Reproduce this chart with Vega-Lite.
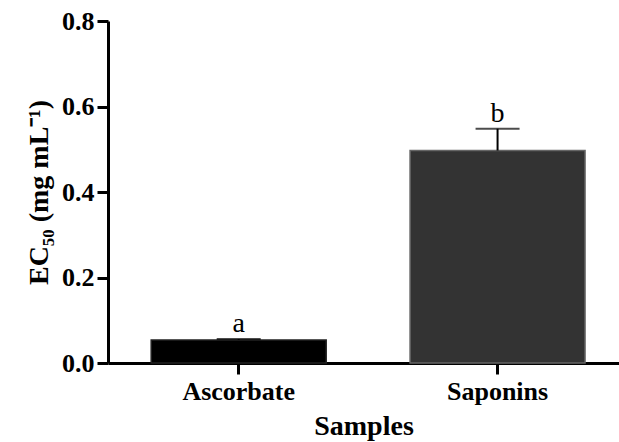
{
  "$schema": "https://vega.github.io/schema/vega-lite/v6.json",
  "width": 511,
  "height": 342,
  "autosize": "none",
  "padding": {"left": 108, "top": 21, "right": 0, "bottom": 79},
  "background": "white",
  "config": {
    "view": {"stroke": null},
    "font": "Liberation Serif",
    "axis": {
      "domainColor": "black",
      "domainWidth": 3,
      "tickColor": "black",
      "tickWidth": 3,
      "tickSize": 11,
      "grid": false,
      "labelFont": "Liberation Serif",
      "labelFontWeight": "bold",
      "labelFontSize": 26,
      "labelColor": "black",
      "titleFont": "Liberation Serif",
      "titleFontWeight": "bold",
      "titleFontSize": 28,
      "titleColor": "black"
    }
  },
  "data": {
    "values": [
      {"sample": "Ascorbate", "value": 0.054, "upper": 0.056, "letter": "a", "color": "Ascorbate"},
      {"sample": "Saponins", "value": 0.497, "upper": 0.548, "letter": "b", "color": "Saponins"}
    ]
  },
  "encoding": {
    "x": {
      "field": "sample",
      "type": "nominal",
      "sort": null,
      "scale": {"paddingInner": 0.324, "paddingOuter": 0.149, "align": 0.56},
      "axis": {"title": "Samples", "labelAngle": 0, "labelPadding": 4, "titlePadding": 8}
    }
  },
  "layer": [
    {
      "mark": {"type": "bar", "strokeWidth": 1.5},
      "encoding": {
        "y": {
          "field": "value",
          "type": "quantitative",
          "scale": {"domain": [0, 0.8]},
          "axis": {
            "title": "EC₅₀ (mg mL⁻¹)",
            "values": [0, 0.2, 0.4, 0.6, 0.8],
            "format": ".1f",
            "labelPadding": 3,
            "titlePadding": 8
          }
        },
        "fill": {
          "field": "color",
          "type": "nominal",
          "scale": {"domain": ["Ascorbate", "Saponins"], "range": ["#000000", "#333333"]},
          "legend": null
        },
        "stroke": {
          "field": "color",
          "type": "nominal",
          "scale": {"domain": ["Ascorbate", "Saponins"], "range": ["#222222", "#666666"]},
          "legend": null
        }
      }
    },
    {
      "mark": {"type": "rule", "color": "black", "strokeWidth": 2},
      "encoding": {
        "y": {"field": "value", "type": "quantitative"},
        "y2": {"field": "upper"}
      }
    },
    {
      "mark": {"type": "tick", "color": "black", "thickness": 2, "size": 44},
      "encoding": {
        "y": {"field": "upper", "type": "quantitative"}
      }
    },
    {
      "mark": {"type": "text", "font": "Liberation Serif", "fontSize": 28, "baseline": "alphabetic", "dy": -7, "color": "black"},
      "encoding": {
        "y": {"field": "upper", "type": "quantitative"},
        "text": {"field": "letter"}
      }
    }
  ]
}
